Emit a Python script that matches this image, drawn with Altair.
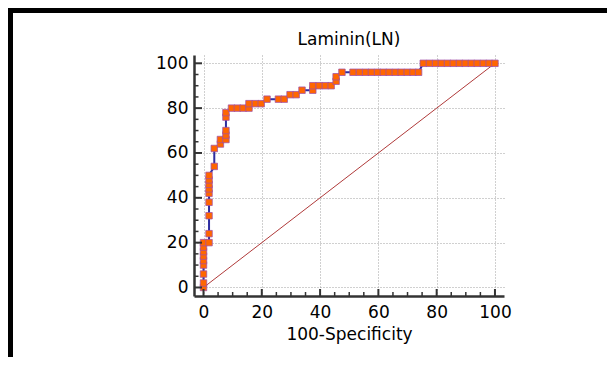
import altair as alt
import pandas as pd

# ROC points (100-Specificity, Sensitivity)
fpr = [0, 0, 0, 0, 0, 0, 0, 0, 0,
       1.9, 1.9, 1.9, 1.9, 1.9, 1.9, 1.9, 1.9, 1.9,
       3.7, 3.7,
       5.8, 5.8,
       7.7, 7.7, 7.7, 7.7, 7.7,
       9.6, 11.6, 13.6, 15.6,
       15.6, 17.8, 19.8,
       21.8, 25.7, 27.7,
       29.7, 31.8,
       33.8,
       37.5, 37.5, 39.7, 41.8, 43.8,
       45.5, 45.5,
       47.5,
       51.3, 53.5, 55.6, 57.6, 59.7, 61.7, 63.7, 65.8, 67.8, 69.9, 71.9, 73.8,
       75.4, 77.5, 79.6, 81.6, 83.7, 85.7, 87.8, 89.8, 91.9, 93.9, 96.0, 98.0, 100]
sens = [0, 2, 6, 10, 12, 14, 16, 18, 20,
        20, 24, 32, 38, 42, 44, 46, 48, 50,
        54, 62,
        64, 66,
        66, 68, 70, 76, 78,
        80, 80, 80, 80,
        82, 82, 82,
        84, 84, 84,
        86, 86,
        88,
        88, 90, 90, 90, 90,
        92, 94,
        96,
        96, 96, 96, 96, 96, 96, 96, 96, 96, 96, 96, 96,
        100, 100, 100, 100, 100, 100, 100, 100, 100, 100, 100, 100, 100]

diag_x = [0, 100]
diag_y = [0, 100]

x_major = [0, 20, 40, 60, 80, 100]
y_major = [0, 20, 40, 60, 80, 100]
x_minor = [5, 10, 15, 25, 30, 35, 45, 50, 55, 65, 70, 75, 85, 90, 95]
y_minor = [5, 10, 15, 25, 30, 35, 45, 50, 55, 65, 70, 75, 85, 90, 95]

chart_title = "Laminin(LN)"

W, H = 310, 241
FONT = "DejaVu Sans"

roc = pd.DataFrame({"x": fpr, "y": sens, "i": list(range(len(fpr)))})
diag = pd.DataFrame({"x": diag_x, "y": diag_y})

xscale = alt.Scale(domain=[-3.26, 103.1], nice=False, zero=False)
yscale = alt.Scale(domain=[-3.8, 103.7], nice=False, zero=False)
xaxis = alt.Axis(values=x_major, title="100-Specificity", ticks=False,
                 labelPadding=8, titlePadding=6, grid=True)
yaxis = alt.Axis(values=y_major, title=None, ticks=False, labelPadding=6, grid=True)


def X(f):
    return alt.X(f, type="quantitative", scale=xscale, axis=xaxis)


def Y(f):
    return alt.Y(f, type="quantitative", scale=yscale, axis=yaxis)


diag_layer = alt.Chart(diag).mark_line(color="#b03a3a", strokeWidth=1).encode(x=X("x"), y=Y("y"))
line_layer = alt.Chart(roc).mark_line(color="#2e2ea0", strokeWidth=2).encode(
    x=X("x"), y=Y("y"), order="i:Q")
pts_layer = alt.Chart(roc).mark_square(size=42, filled=True, fill="#ff6600",
                                       stroke="#a050a8", strokeWidth=1, strokeOpacity=0.75,
                                       opacity=1).encode(x=X("x"), y=Y("y"))

ymaj = alt.Chart(pd.DataFrame({"v": y_major})).mark_rule(color="#333333", strokeWidth=2).encode(
    y=Y("v"), x=alt.value(0), x2=alt.value(8))
ymin = alt.Chart(pd.DataFrame({"v": y_minor})).mark_rule(color="#333333", strokeWidth=1.5).encode(
    y=Y("v"), x=alt.value(0), x2=alt.value(4.5))
xmaj = alt.Chart(pd.DataFrame({"v": x_major})).mark_rule(color="#333333", strokeWidth=2).encode(
    x=X("v"), y=alt.value(H), y2=alt.value(H - 7))
xmin = alt.Chart(pd.DataFrame({"v": x_minor})).mark_rule(color="#333333", strokeWidth=1.5).encode(
    x=X("v"), y=alt.value(H), y2=alt.value(H - 4))

title_layer = alt.Chart(pd.DataFrame({"t": [chart_title]})).mark_text(
    font=FONT, fontSize=17, color="black", baseline="middle", align="center").encode(
    text="t:N", x=alt.value(W / 2), y=alt.value(-15))

frame = alt.Chart(pd.DataFrame({"a": [0]})).mark_rect(
    fillOpacity=0, stroke="black", strokeWidth=5).encode(
    x=alt.value(-183.5), x2=alt.value(800), y=alt.value(-44.5), y2=alt.value(800))

chart = alt.layer(diag_layer, line_layer, pts_layer, ymaj, ymin, xmaj, xmin,
                  title_layer, frame).properties(
    width=W, height=H,
    autosize=alt.AutoSizeParams(type="none"),
    padding={"left": 186, "top": 47, "right": 103, "bottom": 61},
).configure_view(stroke=None).configure_axis(
    labelFont=FONT, labelFontSize=17, labelColor="black",
    titleFont=FONT, titleFontSize=17, titleFontWeight="normal", titleColor="black",
    domainColor="#333333", domainWidth=2.5,
    gridColor="#a0a0a0", gridDash=[1, 2], gridWidth=1,
)

chart.save("out.html", embed_options={"renderer": "svg", "actions": False})
